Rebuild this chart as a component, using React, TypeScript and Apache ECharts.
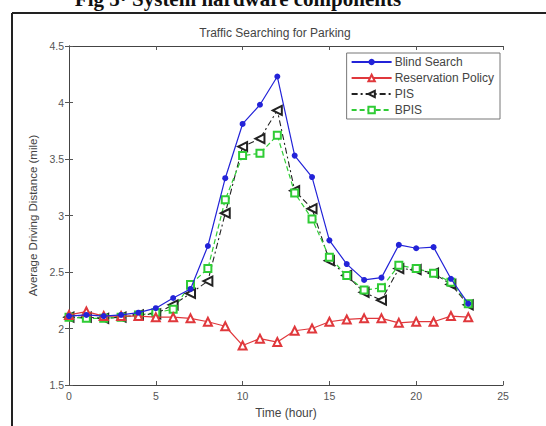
import React, { useEffect, useRef } from "react";
import * as echarts from "echarts";

const hours = [0, 1, 2, 3, 4, 5, 6, 7, 8, 9, 10, 11, 12, 13, 14, 15, 16, 17, 18, 19, 20, 21, 22, 23];
const blindSearch = [2.11, 2.12, 2.11, 2.12, 2.14, 2.18, 2.27, 2.35, 2.73, 3.33, 3.81, 3.98, 4.23, 3.53, 3.34, 2.78, 2.57, 2.43, 2.45, 2.74, 2.71, 2.72, 2.44, 2.22];
const reservation = [2.12, 2.15, 2.11, 2.11, 2.11, 2.1, 2.1, 2.09, 2.06, 2.02, 1.85, 1.91, 1.88, 1.98, 2.0, 2.06, 2.08, 2.09, 2.09, 2.05, 2.06, 2.06, 2.11, 2.1];
const pis = [2.1, 2.1, 2.09, 2.1, 2.12, 2.13, 2.21, 2.31, 2.42, 3.02, 3.61, 3.68, 3.93, 3.22, 3.06, 2.6, 2.47, 2.32, 2.25, 2.53, 2.52, 2.49, 2.39, 2.21];
const bpis = [2.1, 2.09, 2.09, 2.1, 2.12, 2.14, 2.17, 2.39, 2.53, 3.14, 3.53, 3.55, 3.71, 3.2, 2.97, 2.63, 2.47, 2.34, 2.36, 2.56, 2.53, 2.49, 2.41, 2.22];
const seriesNames = ["Blind Search", "Reservation Policy", "PIS", "BPIS"];

const FONT = "Liberation Sans, Arial, sans-serif";

export default function App() {
  const ref = useRef<HTMLDivElement>(null);
  useEffect(() => {
    if (!ref.current) return;
    const chart = echarts.init(ref.current, undefined, { renderer: "svg" });
    const pairs = (ys: number[]) => hours.map((h, i) => [h, ys[i]]);
    const axisLine = { show: true, lineStyle: { color: "#444", width: 1 } };
    const tick = { show: true, inside: true, length: 4, lineStyle: { color: "#555" } };
    chart.setOption({
      animation: false,
      backgroundColor: "#fff",
      textStyle: { fontFamily: FONT },
      grid: { left: 69, right: 43, top: 46, bottom: 41, containLabel: false },
      legend: {
        show: true,
        data: seriesNames,
        orient: "vertical",
        right: 46,
        top: 53,
        itemWidth: 40,
        itemHeight: 8,
        itemGap: 4,
        padding: [3, 6, 3, 4],
        borderColor: "#777",
        borderWidth: 1,
        backgroundColor: "#fff",
        textStyle: { fontSize: 12, color: "#444", fontFamily: FONT, padding: [0, 0, 0, -2] },
      },
      xAxis: [
        {
          type: "value",
          min: 0,
          max: 25,
          interval: 5,
          position: "bottom",
          name: "Time (hour)",
          nameLocation: "middle",
          nameGap: 22,
          nameTextStyle: { fontSize: 12, color: "#444", fontFamily: FONT },
          axisLine,
          axisTick: tick,
          axisLabel: { fontSize: 10.5, color: "#555", margin: 5, fontFamily: FONT },
          splitLine: { show: false },
        },
        {
          type: "value",
          min: 0,
          max: 25,
          interval: 5,
          position: "top",
          axisLine,
          axisTick: tick,
          axisLabel: { show: false },
          splitLine: { show: false },
        },
      ],
      yAxis: [
        {
          type: "value",
          min: 1.5,
          max: 4.5,
          interval: 0.5,
          position: "left",
          name: "Average Driving Distance (mile)",
          nameLocation: "middle",
          nameGap: 30,
          nameRotate: 90,
          nameTextStyle: { fontSize: 11.5, color: "#444", fontFamily: FONT },
          axisLine,
          axisTick: tick,
          axisLabel: { fontSize: 10.5, color: "#555", margin: 5, fontFamily: FONT },
          splitLine: { show: false },
        },
        {
          type: "value",
          min: 1.5,
          max: 4.5,
          interval: 0.5,
          position: "right",
          axisLine,
          axisTick: tick,
          axisLabel: { show: false },
          splitLine: { show: false },
        },
      ],
      series: [
        {
          name: seriesNames[0],
          type: "line",
          data: pairs(blindSearch),
          symbol: "circle",
          symbolSize: 6,
          lineStyle: { color: "#2323d8", width: 1.2 },
          itemStyle: { color: "#2323d8" },
          z: 5,
        },
        {
          name: seriesNames[1],
          type: "line",
          data: pairs(reservation),
          symbol: "emptyTriangle",
          symbolSize: 8,
          lineStyle: { color: "#e0383c", width: 1.2 },
          itemStyle: { color: "#e0383c", borderWidth: 1 },
          z: 4,
        },
        {
          name: seriesNames[2],
          type: "line",
          data: pairs(pis),
          symbol: "emptyTriangle",
          symbolRotate: 90,
          symbolSize: 9,
          lineStyle: { color: "#222", width: 1.1, type: [6, 3, 2, 3] },
          itemStyle: { color: "#222", borderWidth: 1 },
          z: 3,
        },
        {
          name: seriesNames[3],
          type: "line",
          data: pairs(bpis),
          symbol: "emptyRect",
          symbolSize: 7,
          lineStyle: { color: "#2fcc35", width: 1.2, type: [5, 3] },
          itemStyle: { color: "#2fcc35", borderWidth: 1 },
          z: 3,
        },
      ],
      graphic: [
        {
          type: "text",
          x: 275,
          y: 33,
          style: {
            text: "Traffic Searching for Parking",
            fontSize: 12,
            fill: "#444",
            fontFamily: FONT,
            align: "center",
            verticalAlign: "middle",
          },
        },
        {
          type: "text",
          x: 238,
          y: 9,
          style: {
            text: "Fig 5· System hardware components",
            fontSize: 21,
            fontWeight: "bold",
            fill: "#111",
            fontFamily: "Liberation Serif, Times New Roman, serif",
            align: "center",
            verticalAlign: "bottom",
          },
        },
        {
          type: "line",
          shape: { x1: 12, y1: 13, x2: 546, y2: 13 },
          style: { stroke: "#222", lineWidth: 2 },
        },
        {
          type: "line",
          shape: { x1: 12, y1: 13, x2: 12, y2: 426 },
          style: { stroke: "#222", lineWidth: 2 },
        },
      ],
    });
    return () => chart.dispose();
  }, []);
  return (
    <div
      ref={ref}
      style={{ width: 546, height: 426, position: "absolute", left: 0, top: 0 }}
    />
  );
}
